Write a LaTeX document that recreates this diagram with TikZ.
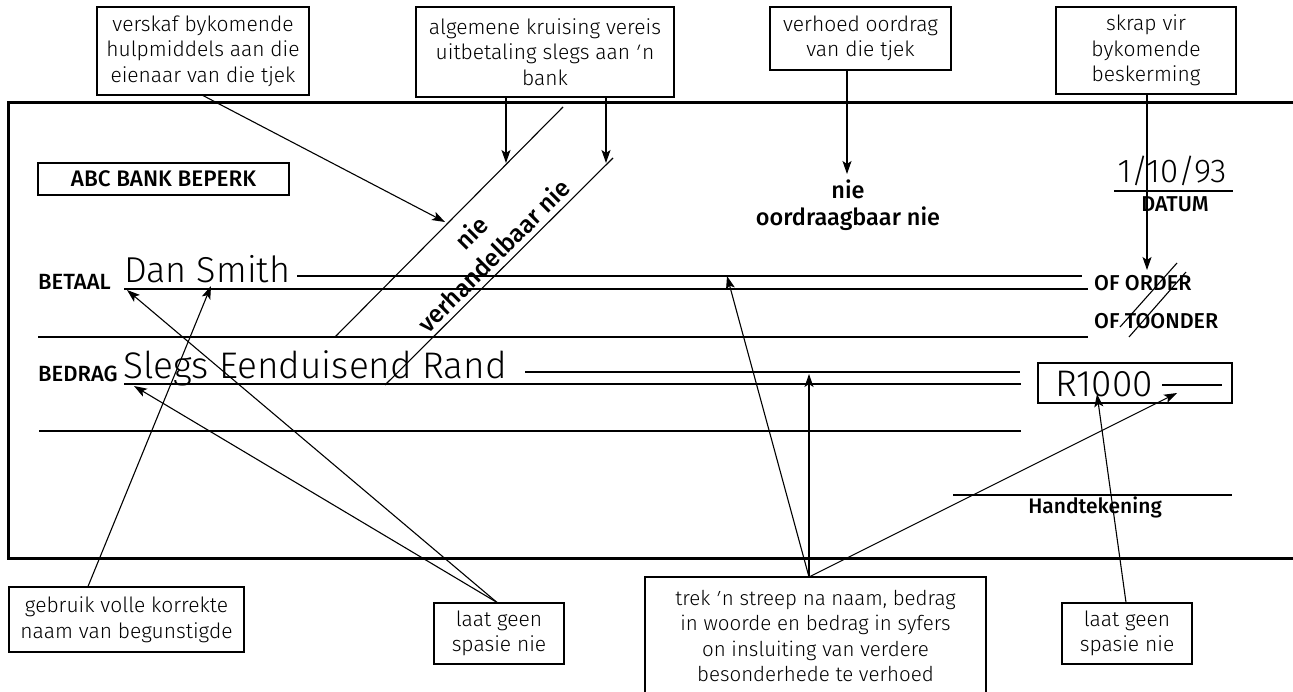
\documentclass[tikz,border=0pt]{standalone}
\usepackage{fontspec}
\setmainfont{Fira Sans}
\newfontfamily\lightf{Fira Sans Light}
\newfontfamily\medf{Fira Sans Medium}
\usetikzlibrary{arrows.meta}
\begin{document}
\begin{tikzpicture}[x=1pt,y=-1pt,
  note/.style={draw, line width=1.1pt, align=center, inner sep=0pt,
    font=\lightf\fontsize{21}{25.5}\selectfont},
  plain/.style={align=center, inner sep=0pt,
    font=\lightf\fontsize{20.5}{25.5}\selectfont},
  lab/.style={inner sep=0pt, font=\medf\fontsize{22}{24}\selectfont},
  hand/.style={inner sep=0pt, font=\lightf\fontsize{37}{40}\selectfont},
  heavy/.style={line width=2.6pt},
  fine/.style={line width=1.1pt},
  arr/.style={line width=1.1pt, -{Stealth[length=13pt,width=9pt,inset=3pt]}}
]
\useasboundingbox (0,0) rectangle (1293,692);
\fill[white] (0,0) rectangle (1293,692);

% cheque outline
\draw[line width=3pt] (1300,103) -- (8,103) -- (8,558) -- (1300,558);

% bank name
\node[draw, line width=2.5pt, minimum width=251pt, minimum height=32pt, inner sep=0pt,
  font=\medf\fontsize{22.5}{24}\selectfont] (abc) at (163.5,179) {ABC BANK BEPERK};

% payee row
\node[lab, anchor=base west] (betaal) at (38,290) {BETAAL};
\node[hand, font=\lightf\fontsize{36}{40}\selectfont, anchor=base west] (name) at (124,283) {Dan Smith};
\draw[fine] (297,276) -- (1082,276);
\draw[heavy] (124,289) -- (1088,289);
\node[lab, font=\medf\fontsize{21.5}{24}\selectfont, anchor=base west] (order) at (1094,291) {OF ORDER};
\draw[heavy] (38,337) -- (1088,337);
\node[lab, font=\medf\fontsize{21.5}{24}\selectfont, anchor=base west] (toonder) at (1094,329) {OF TOONDER};
\draw[fine] (1177,263) -- (1120,327);
\draw[fine] (1186,272) -- (1129,337);

% amount row
\node[lab, anchor=base west] (bedrag) at (38,382) {BEDRAG};
\node[hand, anchor=base west] (words) at (123,378) {Slegs Eenduisend Rand};
\draw[fine] (525,372) -- (1020,372);
\draw[heavy] (124,384) -- (1021,384);
\draw[heavy] (39,431) -- (1021,431);
\draw[heavy] (1038,363) rectangle (1232,403);
\node[hand, anchor=base west] (fig) at (1055,396) {R1000};
\draw[fine] (1162,385) -- (1222,385);

% date
\node[hand, font=\lightf\fontsize{33}{38}\selectfont, anchor=base] (date) at (1172,183) {1/10/93};
\draw[heavy] (1114,191) -- (1233,191);
\node[lab, font=\medf\fontsize{21.5}{24}\selectfont, anchor=base] (datum) at (1175,212) {DATUM};

% signature
\draw[heavy] (953,495) -- (1232,495);
\node[lab, font=\medf\fontsize{21}{24}\selectfont, anchor=base] (sign) at (1095,513) {Handtekening};

% not transferable
\node[lab, font=\medf\fontsize{23.5}{26}\selectfont, anchor=base] (nie1) at (848,199) {nie};
\node[lab, font=\medf\fontsize{23.5}{26}\selectfont, anchor=base] (oord) at (848,226) {oordraagbaar nie};

% crossing
\draw[fine] (563,107) -- (335,337);
\draw[fine] (613,158) -- (385,385);
\node[rotate=45, align=center, inner sep=0pt,
  font=\medf\fontsize{24.5}{32}\selectfont] (cross) at (482,244) {nie\\verhandelbaar nie};

% annotation boxes
\node[note, minimum width=212pt, minimum height=88pt] (v1) at (203,51)
  {verskaf bykomende\\hulpmiddels aan die\\eienaar van die tjek};
\node[note, minimum width=258pt, minimum height=90pt] (v2) at (545,52)
  {algemene kruising vereis\\uitbetaling slegs aan ʹn\\bank};
\node[note, minimum width=181pt, minimum height=63pt] (v3) at (860.5,38.5)
  {verhoed oordrag\\van die tjek};
\node[note, minimum width=180pt, minimum height=87pt] (v4) at (1146,50.5)
  {skrap vir\\bykomende\\beskerming};
\node[note, minimum width=235pt, minimum height=65pt] (g) at (126.5,619.5)
  {gebruik volle korrekte\\naam van begunstigde};
\node[note, minimum width=130pt, minimum height=61pt] (l1) at (499,633.5)
  {laat geen\\spasie nie};
\node[note, minimum width=130pt, minimum height=61pt] (l2) at (1127,633.5)
  {laat geen\\spasie nie};
\node[plain] (trek) at (815.5,636)
  {trek ʹn streep na naam, bedrag\\in woorde en bedrag in syfers\\on insluiting van verdere\\besonderhede te verhoed};
\draw[line width=1.1pt] (645,700) -- (645,577) -- (986,577) -- (986,700);
\coordinate (tk) at (809,577);

% arrow targets
\coordinate (eA) at (445,222);
\coordinate (eB1) at (506,163);
\coordinate (eB2) at (606,163);
\coordinate (eC) at (847,174);
\coordinate (eD) at (1147,270);
\coordinate (eE) at (211,286);
\coordinate (eF1) at (127,290);
\coordinate (eF2) at (134,386);
\coordinate (eG1) at (727,276);
\coordinate (eG2) at (809,374);
\coordinate (eG3) at (1177,393);
\coordinate (eH) at (1097,394);

% connectors
\draw[arr] (v1.south) -- (eA);
\draw[arr] ([xshift=-39pt]v2.south) -- (eB1);
\draw[arr] ([xshift=61pt]v2.south) -- (eB2);
\draw[arr] ([xshift=-13.5pt]v3.south) -- (eC);
\draw[arr] ([xshift=1pt]v4.south) -- (eD);
\draw[arr] ([xshift=-38.5pt]g.north) -- (eE);
\draw[arr] ([xshift=-2pt]l1.north) -- (eF1);
\draw[arr] ([xshift=-2pt]l1.north) -- (eF2);
\draw[arr] (tk) -- (eG1);
\draw[arr] (tk) -- (eG2);
\draw[arr] (tk) -- (eG3);
\draw[arr] ([xshift=-1pt]l2.north) -- (eH);
\end{tikzpicture}
\end{document}
